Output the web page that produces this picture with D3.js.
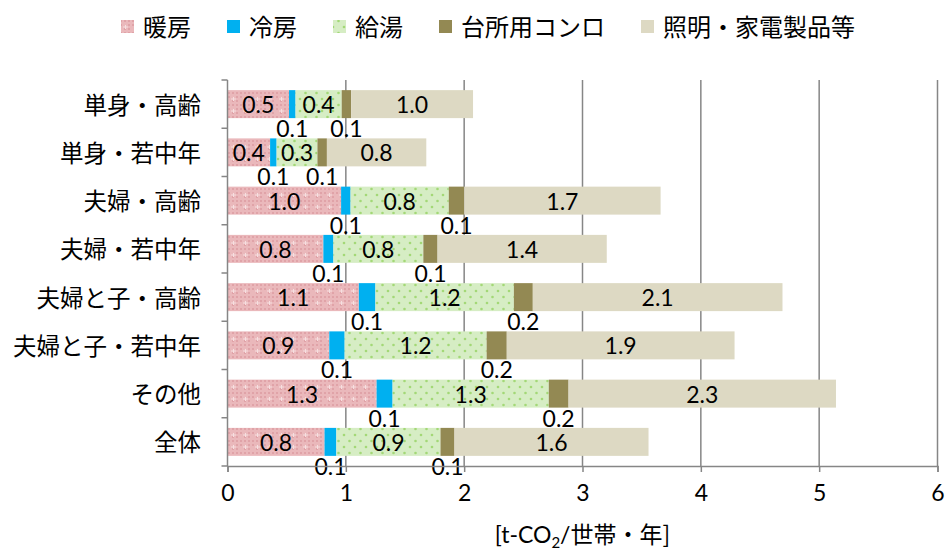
<!DOCTYPE html>
<html>
<head>
<meta charset="utf-8">
<script src="https://cdn.jsdelivr.net/npm/d3@7"></script>
<style>
  body { margin: 0; background: #fff; }
  svg { display: block; }
</style>
</head>
<body>
<div id="chart"></div>
<script>
var categories = ["単身・高齢", "単身・若中年", "夫婦・高齢", "夫婦・若中年", "夫婦と子・高齢", "夫婦と子・若中年", "その他", "全体"];
var seriesNames = ["暖房", "冷房", "給湯", "台所用コンロ", "照明・家電製品等"];
var heating  = [0.52, 0.36, 0.96, 0.81, 1.11, 0.86, 1.26, 0.82];
var cooling  = [0.055, 0.055, 0.08, 0.085, 0.14, 0.13, 0.135, 0.10];
var hotWater = [0.39, 0.345, 0.83, 0.76, 1.17, 1.20, 1.32, 0.88];
var cooking  = [0.08, 0.08, 0.13, 0.12, 0.16, 0.17, 0.167, 0.118];
var other    = [1.03, 0.84, 1.66, 1.43, 2.11, 1.925, 2.26, 1.64];
var xTicks   = [0, 1, 2, 3, 4, 5, 6];

var param = {
    width : 946,
    height : 553,
    left : 227.5,
    right : 937.5,
    top : 80,
    bottom : 466,
    jpFont : "'Noto Sans CJK JP', 'Noto Sans', sans-serif",
    numFont : "Lato, 'Noto Sans', sans-serif"
};

var seriesValues = [heating, cooling, hotWater, cooking, other];
var fills = ["url(#patHeat)", "#00b0f0", "url(#patWater)", "#938953", "#ddd9c3"];
// small segments get their label under the bar
var labelBelow = [false, true, false, true, false];

var svg = d3.select("#chart")
            .append("svg")
            .attr("width", param.width)
            .attr("height", param.height);

var defs = svg.append("defs");

var heat = defs.append("pattern")
               .attr("id", "patHeat")
               .attr("patternUnits", "userSpaceOnUse")
               .attr("width", 12)
               .attr("height", 12);
heat.append("rect").attr("width", 12).attr("height", 12).attr("fill", "#eab8bb");
[[0, 0], [4, 4], [8, 0], [0, 8], [8, 8], [4, 8], [8, 4]].forEach(function(p) {
    heat.append("rect").attr("x", p[0]).attr("y", p[1]).attr("width", 2).attr("height", 2).attr("fill", "#e0a3a8");
});
heat.append("rect").attr("x", 5).attr("y", 1).attr("width", 1).attr("height", 4).attr("fill", "#f6dfe0");
heat.append("rect").attr("x", 3).attr("y", 2.5).attr("width", 5).attr("height", 1).attr("fill", "#f6dfe0");

var water = defs.append("pattern")
                .attr("id", "patWater")
                .attr("patternUnits", "userSpaceOnUse")
                .attr("width", 11)
                .attr("height", 12);
water.append("rect").attr("width", 11).attr("height", 12).attr("fill", "#d6edc4");
water.append("circle").attr("cx", 3).attr("cy", 3).attr("r", 1.3).attr("fill", "#a3d876");
water.append("circle").attr("cx", 8.5).attr("cy", 9).attr("r", 1.3).attr("fill", "#a3d876");

var x = d3.scaleLinear()
          .domain([0, 6])
          .range([param.left, param.right]);

var y = d3.scaleBand()
          .domain(categories)
          .range([param.top, param.bottom])
          .paddingInner(0.42)
          .paddingOuter(0.21);

// vertical gridlines
svg.append("g")
   .selectAll("line")
   .data(xTicks.slice(1))
   .enter()
   .append("line")
   .attr("x1", function(d) {return x(d)})
   .attr("x2", function(d) {return x(d)})
   .attr("y1", param.top)
   .attr("y2", param.bottom)
   .style("stroke", "#868686")
   .style("stroke-width", "1.5px");

// stacked bars
var stackData = categories.map(function(c, i) {
    var row = {category : c};
    seriesNames.forEach(function(s, k) { row[s] = seriesValues[k][i]; });
    return row;
});
var stacked = d3.stack().keys(seriesNames)(stackData);

var layers = svg.append("g")
                .selectAll("g")
                .data(stacked)
                .enter()
                .append("g")
                .attr("fill", function(d, k) {return fills[k]});

layers.selectAll("rect")
      .data(function(d) {return d})
      .enter()
      .append("rect")
      .attr("x", function(d) {return x(d[0])})
      .attr("width", function(d) {return x(d[1]) - x(d[0])})
      .attr("y", function(d) {return y(d.data.category)})
      .attr("height", y.bandwidth());

// data labels
var fmt = d3.format(".1f");
stacked.forEach(function(layer, k) {
    svg.append("g")
       .selectAll("text")
       .data(layer)
       .enter()
       .append("text")
       .attr("x", function(d) {return (x(d[0]) + x(d[1])) / 2})
       .attr("y", function(d) {
           var top = y(d.data.category);
           return labelBelow[k] ? top + y.bandwidth() + 11 : top + y.bandwidth() / 2 + 1;
       })
       .attr("dy", "0.35em")
       .text(function(d) {return fmt(d[1] - d[0])})
       .style("font-family", param.numFont)
       .style("font-size", "23px")
       .style("text-anchor", "middle")
       .style("fill", "#000");
});

// y axis
var yAxisG = svg.append("g");
yAxisG.append("line")
      .attr("x1", param.left).attr("x2", param.left)
      .attr("y1", param.top).attr("y2", param.bottom)
      .style("stroke", "#868686").style("stroke-width", "1.5px");
var step = y.step();
yAxisG.selectAll(".ytick")
      .data(d3.range(categories.length + 1))
      .enter()
      .append("line")
      .attr("x1", param.left - 6).attr("x2", param.left)
      .attr("y1", function(i) {return param.top + i * step})
      .attr("y2", function(i) {return param.top + i * step})
      .style("stroke", "#868686").style("stroke-width", "1.5px");
yAxisG.selectAll(".ylabel")
      .data(categories)
      .enter()
      .append("text")
      .attr("x", 201)
      .attr("y", function(d) {return y(d) + y.bandwidth() / 2 + 1})
      .attr("dy", "0.36em")
      .text(function(d) {return d})
      .style("font-family", param.jpFont)
      .style("font-size", "23.5px")
      .style("text-anchor", "end")
      .style("fill", "#000");

// x axis
var xAxis = d3.axisBottom(x)
              .tickValues(xTicks)
              .tickSize(6)
              .tickPadding(13)
              .tickFormat(d3.format("d"));
var xAxisG = svg.append("g")
                .attr("transform", "translate(0," + param.bottom + ")")
                .call(xAxis);
xAxisG.select(".domain").style("stroke", "#868686").style("stroke-width", "1.5px");
xAxisG.selectAll(".tick line").style("stroke", "#868686").style("stroke-width", "1.5px");
xAxisG.selectAll(".tick text")
      .style("font-family", param.numFont)
      .style("font-size", "23px")
      .style("fill", "#000");

// axis title
var title = svg.append("text")
               .attr("x", (param.left + param.right) / 2)
               .attr("y", 543)
               .style("font-family", param.numFont)
               .style("font-size", "23px")
               .style("text-anchor", "middle")
               .style("fill", "#000");
title.append("tspan").text("[t-CO");
title.append("tspan").text("2").attr("dy", "5").style("font-size", "15px");
title.append("tspan").text("/").attr("dy", "-5");
title.append("tspan").text("世帯・年]").style("font-family", param.jpFont);

// legend
var legend = svg.append("g");
var lx = 121;
seriesNames.forEach(function(s, k) {
    legend.append("rect")
          .attr("x", lx).attr("y", 20)
          .attr("width", 13).attr("height", 13)
          .attr("fill", fills[k]);
    var t = legend.append("text")
                  .attr("x", lx + 22)
                  .attr("y", 27)
                  .attr("dy", "0.36em")
                  .text(s)
                  .style("font-family", param.jpFont)
                  .style("font-size", "24px")
                  .style("fill", "#000");
    lx += 22 + t.node().getComputedTextLength() + 36;
});
</script>
</body>
</html>
